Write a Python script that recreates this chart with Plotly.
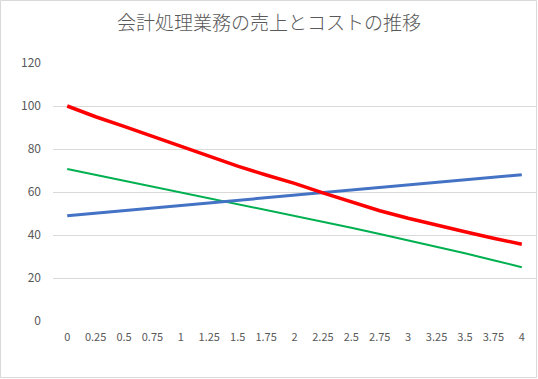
import plotly.graph_objects as go

x_labels = ["0", "0.25", "0.5", "0.75", "1", "1.25", "1.5", "1.75", "2",
            "2.25", "2.5", "2.75", "3", "3.25", "3.5", "3.75", "4"]
red_values = [100, 95, 90.5, 85.8, 81, 76.3, 72, 67.9, 64, 59.6, 55.3, 51.3,
              47.8, 44.5, 41.5, 38.5, 35.7]
blue_values = [49, 50.2, 51.4, 52.6, 53.8, 55, 56.1, 57.3, 58.5, 59.7, 60.9,
               62.1, 63.3, 64.4, 65.6, 66.8, 68]
green_values = [70.7, 68, 65.3, 62.6, 59.9, 57.2, 54.5, 51.8, 49.1, 46.3, 43.4,
                40.5, 37.6, 34.6, 31.5, 28.3, 25]
y_ticks = [0, 20, 40, 60, 80, 100, 120]
title_text = "会計処理業務の売上とコストの推移"

W, H = 538, 379
ml, mr, mt, mb = 53, 2, 63, 58

fig = go.Figure()
fig.add_trace(go.Scatter(x=x_labels, y=green_values, mode="lines",
                         line=dict(color="#00B050", width=2), showlegend=False))
fig.add_trace(go.Scatter(x=x_labels, y=blue_values, mode="lines",
                         line=dict(color="#4472C4", width=3), showlegend=False))
fig.add_trace(go.Scatter(x=x_labels, y=red_values, mode="lines",
                         line=dict(color="#FF0000", width=3.5), showlegend=False))

pw = W - ml - mr
ph = H - mt - mb
fig.add_shape(type="rect", xref="paper", yref="paper",
              x0=(0.5 - ml) / pw, x1=(W - 1.5 - ml) / pw,
              y0=-(mb - 1.5) / ph, y1=1 + (mt - 0.5) / ph,
              line=dict(color="#D9D9D9", width=1))

fig.update_layout(
    width=W, height=H,
    margin=dict(l=ml, r=mr, t=mt, b=mb, autoexpand=False),
    paper_bgcolor="white", plot_bgcolor="white",
    font=dict(family="Noto Sans CJK JP", color="#595959", size=12),
    title=dict(text=title_text, x=0.5, xref="container", y=1 - 23 / H,
               yanchor="middle", xanchor="center",
               font=dict(size=19, color="#595959", family="Noto Sans CJK JP",
                         weight=300)),
    xaxis=dict(type="category", range=[-0.5, 16.5], showgrid=False,
               showline=False, ticks="", automargin=False,
               tickfont=dict(size=11, color="#595959"), ticklabelstandoff=8,
               zeroline=False),
    yaxis=dict(range=[0, 120], tickvals=y_ticks, showgrid=True, automargin=False,
               gridcolor="#D9D9D9", gridwidth=1, showline=False, zeroline=False,
               ticks="", tickfont=dict(size=12, color="#595959"),
               ticklabelstandoff=11),
)
fig.write_html("out.html", config={"displayModeBar": False},
               post_script="document.body.style.margin='0';document.body.style.overflow='hidden';")
